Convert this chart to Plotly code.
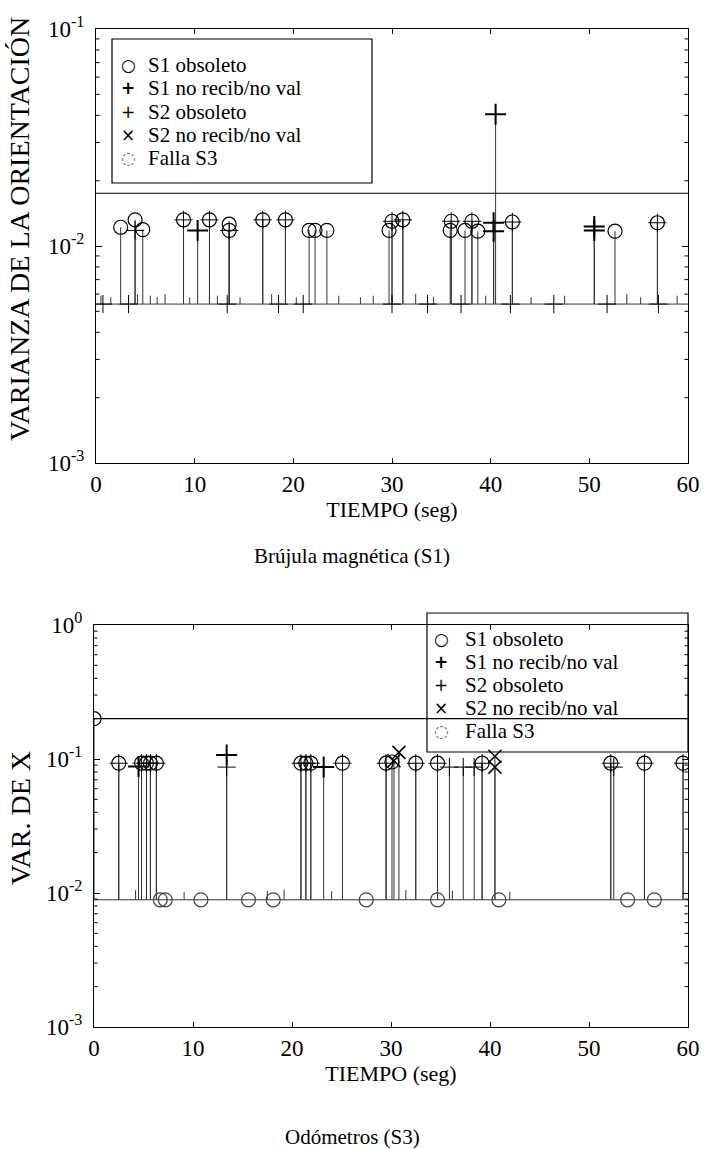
import plotly.graph_objects as go

# ---------------- data: top panel (Brújula magnética, S1) ----------------
top_base = 0.0054          # steady-state orientation variance
top_threshold = 0.0175     # horizontal threshold line
top_x_range = [0, 60]

top_s1_obs_t = [2.5, 3.96, 4.74, 8.87, 11.5, 13.5, 13.5, 16.9, 19.2, 21.6, 22.2, 23.4,
                29.7, 30.0, 31.1, 35.9, 36.0, 37.4, 38.1, 38.7, 42.2, 52.6, 56.9]
top_s1_obs_v = [0.0122, 0.0132, 0.0119, 0.0132, 0.0132, 0.0126, 0.0118, 0.0132, 0.0132, 0.0118, 0.0118, 0.0118,
                0.0118, 0.0130, 0.0132, 0.0118, 0.0130, 0.0118, 0.0130, 0.0117, 0.0129, 0.0117, 0.0128]
top_s1_norec_t = [10.3, 40.5, 40.3, 40.3, 50.5, 50.5]
top_s1_norec_v = [0.0118, 0.0405, 0.0128, 0.0117, 0.0123, 0.0118]
top_s2_obs_t = [3.96, 8.87, 11.5, 13.5, 16.9, 19.2, 30.0, 31.1, 36.0, 38.1, 42.2, 56.9,
                0.7, 3.3, 13.3, 18.5, 21.0, 30.0, 33.6, 37.0, 42.0, 46.4, 51.8, 57.0]
top_s2_obs_v = [0.0118, 0.0132, 0.0132, 0.0118, 0.0132, 0.0132, 0.0130, 0.0132, 0.0130, 0.0130, 0.0129, 0.0128,
                0.0054, 0.0054, 0.0054, 0.0054, 0.0054, 0.0054, 0.0054, 0.0054, 0.0054, 0.0054, 0.0054, 0.0054]
top_s2_norec_t = []
top_s2_norec_v = []
top_falla_t = []
top_falla_v = []
top_small_t = [0.5, 1.5, 4.2, 5.5, 6.2, 7.0, 9.5, 12.3, 14.6, 17.8, 20.3, 24.6, 26.8, 28.1,
               32.4, 34.2, 39.5, 44.1, 47.5, 53.8, 55.2, 58.9]
top_small_v = [0.0059, 0.0058, 0.0060, 0.0059, 0.0058, 0.0060, 0.0058, 0.0059, 0.0058, 0.0060, 0.0058, 0.0059, 0.0058, 0.0059,
               0.0060, 0.0058, 0.0059, 0.0058, 0.0059, 0.0060, 0.0058, 0.0059]

# ---------------- data: bottom panel (Odómetros, S3) ----------------
bot_base = 0.0089
bot_threshold = 0.2
bot_x_range = [0, 60]

bot_s1_obs_t = [2.5, 4.8, 5.3, 5.7, 6.3, 20.9, 21.4, 21.9, 25.1, 29.5, 30.1, 32.5, 34.7, 39.2, 52.2, 55.6, 59.5]
bot_s1_obs_v = [0.093, 0.093, 0.093, 0.093, 0.093, 0.093, 0.093, 0.093, 0.093, 0.093, 0.095, 0.093, 0.093, 0.093, 0.093, 0.093, 0.093]
bot_s1_norec_t = [4.5, 13.4, 23.2]
bot_s1_norec_v = [0.088, 0.107, 0.087]
bot_s2_obs_t = [2.5, 4.8, 5.3, 5.7, 6.3, 20.9, 21.4, 21.9, 25.1, 29.5, 32.5, 34.7, 39.2, 52.2, 55.6, 59.5,
                13.4, 35.9, 37.3, 38.4, 52.5]
bot_s2_obs_v = [0.093, 0.093, 0.093, 0.093, 0.093, 0.093, 0.093, 0.093, 0.093, 0.093, 0.093, 0.093, 0.093, 0.093, 0.093, 0.093,
                0.087, 0.087, 0.087, 0.087, 0.087]
bot_s2_norec_t = [30.8, 30.3, 40.5, 40.5]
bot_s2_norec_v = [0.112, 0.097, 0.105, 0.087]
bot_falla_t = [6.7, 7.2, 10.8, 15.6, 18.1, 27.5, 34.7, 40.9, 53.9, 56.6]
bot_falla_v = [0.0089] * 10
bot_start_t = [0.0]
bot_start_v = [0.2]
bot_small_t = [4.2, 9.1, 17.5, 19.2, 24.0, 31.5, 36.2, 42.0]
bot_small_v = [0.0105, 0.0102, 0.0104, 0.0106, 0.0103, 0.0105, 0.0104, 0.0102]

legend_names = ["S1 obsoleto", "S1 no recib/no val", "S2 obsoleto", "S2 no recib/no val", "Falla S3"]
legend_symbols = ["○", "<b>+</b>", "+", "×", "◌"]
x_tickvals = [0, 10, 20, 30, 40, 50, 60]
top_y_tickvals = [1e-3, 1e-2, 1e-1]
top_y_ticktext = ["10<sup>-3</sup>", "10<sup>-2</sup>", "10<sup>-1</sup>"]
bot_y_tickvals = [1e-3, 1e-2, 1e-1, 1e0]
bot_y_ticktext = ["10<sup>-3</sup>", "10<sup>-2</sup>", "10<sup>-1</sup>", "10<sup>0</sup>"]
minor_digits = [2, 3, 4, 5, 6, 7, 8, 9]

# ---------------- styling ----------------
W, H = 704, 1149
FONT = "Liberation Serif"
INK = "black"
STEM = "#333333"


def px(p):
    return p / W


def py(p):
    return 1 - p / H


fig = go.Figure()


def stems(ts, vs, base):
    xs, ys = [], []
    for t, v in zip(ts, vs):
        xs += [t, t, None]
        ys += [base, v, None]
    return xs, ys


def add_panel(xa, ya, base, thr, s1o, s1n, s2o, s2n, fal, small, extra_stems):
    all_t = s1o[0] + s1n[0] + s2o[0] + s2n[0] + small[0] + extra_stems[0]
    all_v = s1o[1] + s1n[1] + s2o[1] + s2n[1] + small[1] + extra_stems[1]
    sx, sy = stems(all_t, all_v, base)
    fig.add_trace(go.Scatter(x=sx, y=sy, mode="lines", line=dict(color=STEM, width=1),
                             xaxis=xa, yaxis=ya, hoverinfo="skip"))
    fig.add_trace(go.Scatter(x=[0, 60], y=[base, base], mode="lines", line=dict(color=STEM, width=1),
                             xaxis=xa, yaxis=ya, hoverinfo="skip"))
    fig.add_trace(go.Scatter(x=[0, 60], y=[thr, thr], mode="lines", line=dict(color=INK, width=1.2),
                             xaxis=xa, yaxis=ya, hoverinfo="skip"))
    specs = [
        (s1o, dict(symbol="circle-open", size=14, color=INK, line=dict(width=1.2, color=INK))),
        (s1n, dict(symbol="cross-thin-open", size=15, color=INK, line=dict(width=2, color=INK))),
        (s2o, dict(symbol="cross-thin-open", size=13, color=INK, line=dict(width=1, color=INK))),
        (s2n, dict(symbol="x-thin-open", size=13, color=INK, line=dict(width=1.5, color=INK))),
        (fal, dict(symbol="circle-open", size=14, color="#444444", line=dict(width=1.2, color="#444444"))),
    ]
    for name, (data, mk) in zip(legend_names, specs):
        if not data[0]:
            continue
        fig.add_trace(go.Scatter(x=data[0], y=data[1], mode="markers", name=name, marker=mk,
                                 xaxis=xa, yaxis=ya))


add_panel("x", "y", top_base, top_threshold,
          (top_s1_obs_t, top_s1_obs_v), (top_s1_norec_t, top_s1_norec_v),
          (top_s2_obs_t, top_s2_obs_v), (top_s2_norec_t, top_s2_norec_v),
          (top_falla_t, top_falla_v), (top_small_t, top_small_v), ([], []))

add_panel("x2", "y2", bot_base, bot_threshold,
          (bot_s1_obs_t, bot_s1_obs_v), (bot_s1_norec_t, bot_s1_norec_v),
          (bot_s2_obs_t, bot_s2_obs_v), (bot_s2_norec_t, bot_s2_norec_v),
          (bot_falla_t, bot_falla_v), (bot_small_t, bot_small_v), (bot_start_t, bot_start_v))

fig.add_trace(go.Scatter(x=bot_start_t, y=bot_start_v, mode="markers",
                         marker=dict(symbol="circle-open", size=14, color=INK, line=dict(width=1.2, color=INK)),
                         xaxis="x2", yaxis="y2", hoverinfo="skip"))

tickfont = dict(family=FONT, size=23, color=INK)


def xaxis_cfg(domain, anchor, rng):
    return dict(domain=domain, anchor=anchor, range=rng, tickvals=x_tickvals, automargin=False,
                ticks="inside", ticklen=5, tickcolor=INK, showline=True, linecolor=INK, linewidth=1,
                mirror="ticks", showgrid=False, zeroline=False, tickfont=tickfont,
                title=dict(text="TIEMPO (seg)", font=dict(family=FONT, size=22, color=INK), standoff=4))


def yaxis_cfg(domain, anchor, rng, tv, tt):
    return dict(domain=domain, anchor=anchor, type="log", range=rng, tickvals=tv, ticktext=tt,
                automargin=False, ticklabelstandoff=6,
                ticks="inside", ticklen=6, tickcolor=INK, showline=True, linecolor=INK, linewidth=1,
                mirror="ticks", showgrid=False, zeroline=False, tickfont=tickfont)


shapes = []
annotations = []

# minor log ticks (inside, on both vertical sides), as in the original
for xa, ya, decades in (("x", "y", [-3, -2]), ("x2", "y2", [-3, -2, -1])):
    for e in decades:
        for d in minor_digits:
            v = d * 10.0 ** e
            for x0, x1 in ((0, 0.006), (0.994, 1)):
                shapes.append(dict(type="line", xref=f"{xa} domain", yref=ya, x0=x0, x1=x1, y0=v, y1=v,
                                   line=dict(color=INK, width=1)))

# legend boxes (thin frame, items as text, like the original)
legend_boxes = [
    dict(x0=112, x1=372, y0=39, y1=183, sym_x=128, txt_x=147, row0=65, step=23.3),
    dict(x0=427, x1=688, y0=613, y1=752, sym_x=441, txt_x=464, row0=639, step=23.0),
]
for box in legend_boxes:
    shapes.append(dict(type="rect", xref="paper", yref="paper",
                       x0=px(box["x0"]), x1=px(box["x1"]), y0=py(box["y1"]), y1=py(box["y0"]),
                       line=dict(color=INK, width=1.2), fillcolor="rgba(0,0,0,0)", layer="above"))
    for i, (name, sym) in enumerate(zip(legend_names, legend_symbols)):
        yy = py(box["row0"] + i * box["step"])
        sym_color = "#666666" if i == 4 else INK
        annotations.append(dict(text=sym, x=px(box["sym_x"]), y=yy, xref="paper", yref="paper",
                                xanchor="center", yanchor="middle", showarrow=False, borderpad=0,
                                font=dict(family="DejaVu Sans", size=17, color=sym_color)))
        annotations.append(dict(text=name, x=px(box["txt_x"]), y=yy, xref="paper", yref="paper",
                                xanchor="left", yanchor="middle", showarrow=False, borderpad=0,
                                font=dict(family=FONT, size=21, color=INK)))

annotations += [
    dict(text="VARIANZA DE LA ORIENTACIÓN", x=px(20), y=py(229), xref="paper", yref="paper",
         xanchor="center", yanchor="middle",
         textangle=-90, showarrow=False, font=dict(family=FONT, size=28, color=INK)),
    dict(text="VAR. DE X", x=px(20), y=py(818), xref="paper", yref="paper",
         xanchor="center", yanchor="middle",
         textangle=-90, showarrow=False, font=dict(family=FONT, size=28, color=INK)),
    dict(text="Brújula magnética (S1)", x=px(352), y=py(556), xref="paper", yref="paper",
         xanchor="center", yanchor="middle",
         showarrow=False, font=dict(family=FONT, size=21, color=INK)),
    dict(text="Odómetros (S3)", x=px(352), y=py(1137), xref="paper", yref="paper",
         xanchor="center", yanchor="middle",
         showarrow=False, font=dict(family=FONT, size=21, color=INK)),
]

fig.update_layout(
    width=W, height=H, autosize=False,
    margin=dict(l=0, r=0, t=0, b=0, autoexpand=False),
    paper_bgcolor="white", plot_bgcolor="white",
    font=dict(family=FONT, color=INK),
    showlegend=False,
    xaxis=xaxis_cfg([px(96), px(688)], "y", top_x_range),
    yaxis=yaxis_cfg([py(463), py(29)], "x", [-3, -1], top_y_tickvals, top_y_ticktext),
    xaxis2=xaxis_cfg([px(94), px(688)], "y2", bot_x_range),
    yaxis2=yaxis_cfg([py(1027), py(625)], "x2", [-3, 0], bot_y_tickvals, bot_y_ticktext),
    shapes=shapes,
    annotations=annotations,
)

fig.write_html("out.html")
